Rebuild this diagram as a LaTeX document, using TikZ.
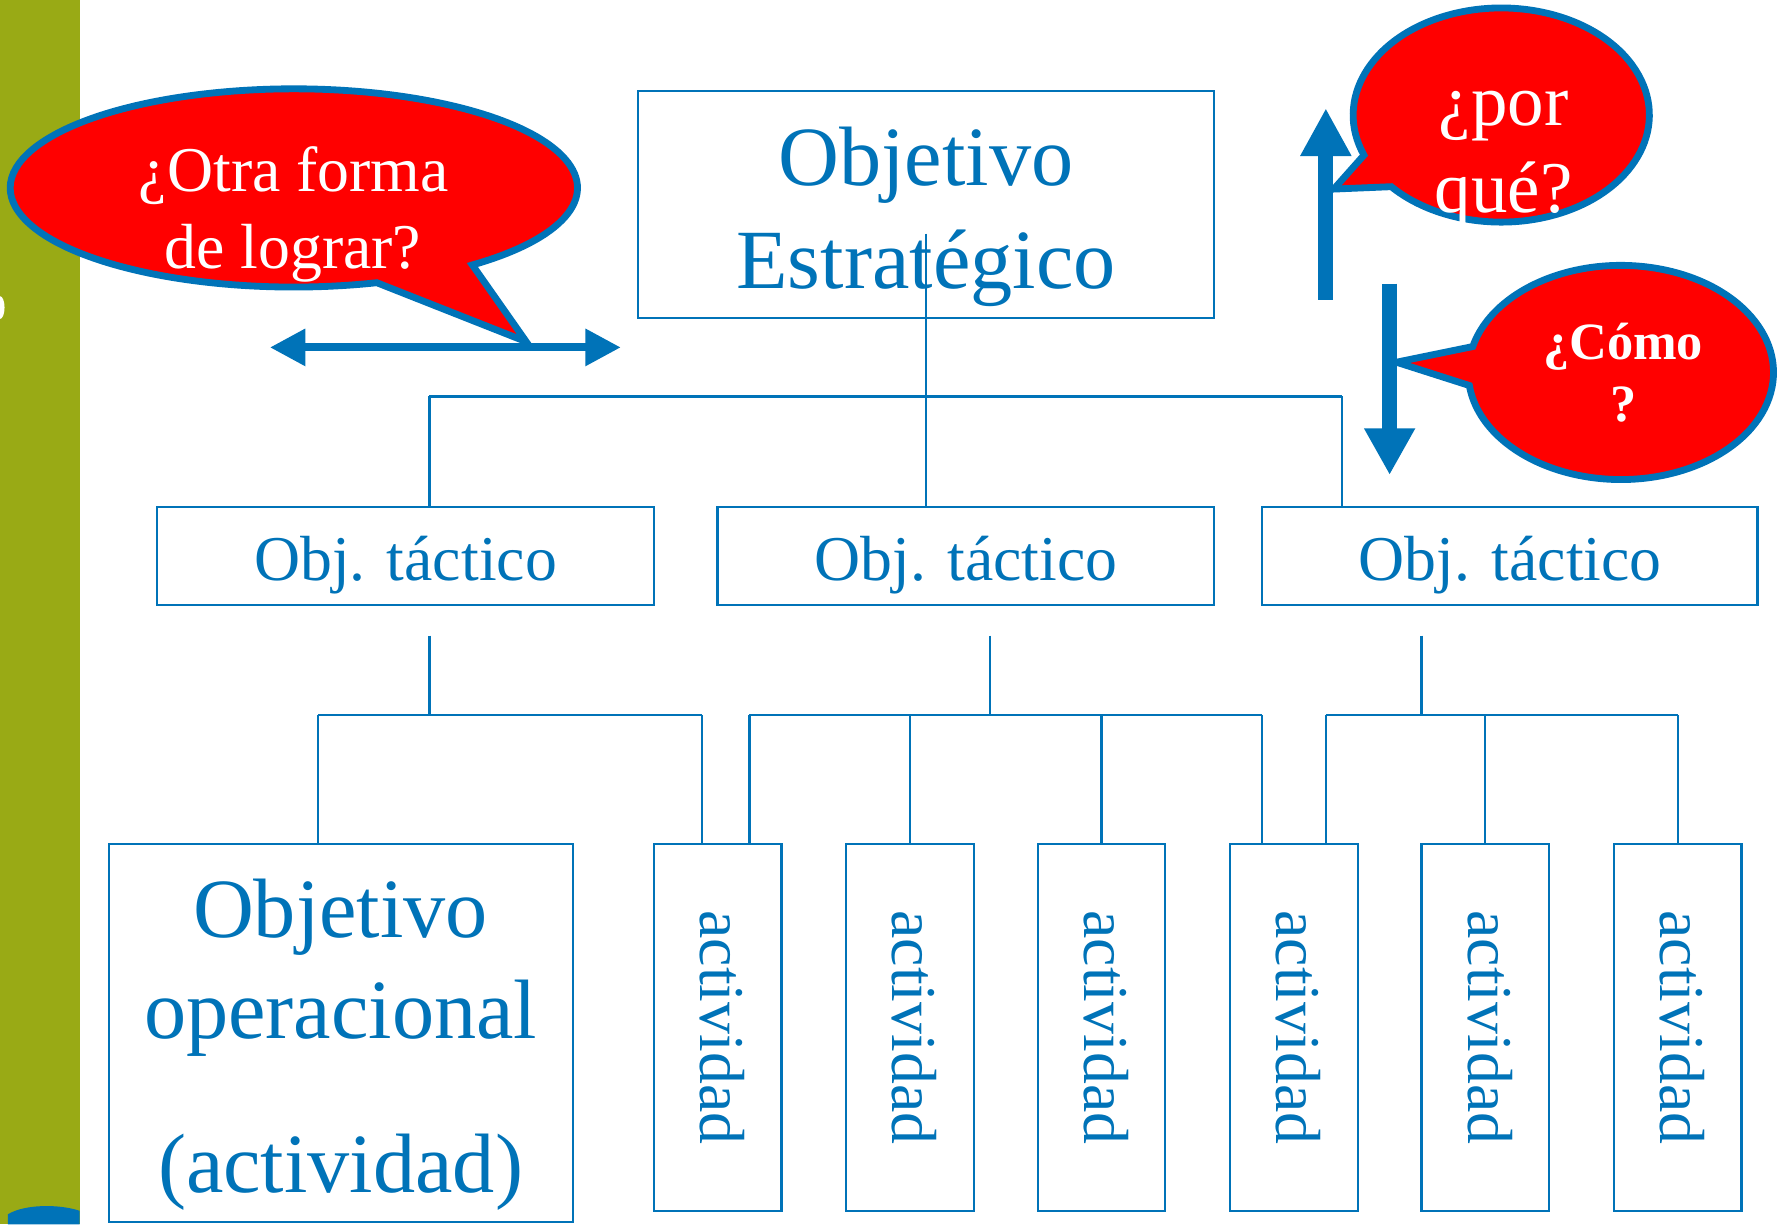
\documentclass[tikz,border=0pt]{standalone}
\usepackage{fontspec}
\setmainfont{Liberation Serif}
\usetikzlibrary{arrows.meta,calc}
\definecolor{myblue}{RGB}{0,115,184}
\definecolor{olive}{RGB}{153,170,21}
\definecolor{myred}{RGB}{255,0,0}
\newcommand\myfs[2]{\fontsize{#1}{#2}\selectfont}
\begin{document}
\begin{tikzpicture}[x=1pt,y=-1pt,
  boxs/.style={draw=myblue, line width=2pt, inner sep=0pt, minimum width=#1},
  conn/.style={draw=myblue, line width=2pt},
  bigtxt/.style={text=myblue, font=\myfs{74}{89}, inner sep=0pt, anchor=base},
  midtxt/.style={text=myblue, font=\myfs{56}{67}, inner sep=0pt, anchor=base},
  acttxt/.style={text=myblue, font=\myfs{56}{67}, inner sep=0pt, rotate=-90},
  callout/.style={fill=myred, draw=myblue, line width=6pt, line join=miter},
  calltxt/.style={text=white, inner sep=0pt, anchor=base},
  fat/.style={draw=myblue, line cap=butt}
]
\useasboundingbox (0,0) rectangle (1568,1075);
\fill[white] (0,0) rectangle (1568,1075);
% green strip
\fill[olive] (0,0) rectangle (70,1075);
\fill[white] (0,270) ellipse [x radius=4, y radius=10];
\fill[myblue] (7,1075) -- (7,1066) .. controls (22,1057) and (52,1057) .. (70,1063) -- (70,1075) -- cycle;

% boxes
\node[boxs=506pt, minimum height=199pt] (es) at (813,179.5) {};
\node[bigtxt] (es1) at (813,163) {Objetivo};
\node[bigtxt] (es2) at (813,253) {Estratégico};

\node[boxs=436pt, minimum height=86pt] (t1) at (356,488) {};
\node[boxs=436pt, minimum height=86pt] (t2) at (848,488) {};
\node[boxs=435pt, minimum height=86pt] (t3) at (1325.5,488) {};
\node[midtxt] (tt1) at (356,510) {Obj. táctico};
\node[midtxt] (tt2) at (848,510) {Obj. táctico};
\node[midtxt] (tt3) at (1326,510) {Obj. táctico};

\node[boxs=407pt, minimum height=332pt] (op) at (299.5,907) {};
\node[bigtxt] (op1) at (299,823) {Objetivo};
\node[bigtxt] (op2) at (299,912) {operacional};
\node[bigtxt] (op3) at (299,1047) {(actividad)};

\foreach \i/\x in {1/630,2/799,3/967,4/1136,5/1304,6/1473}{
  \node[boxs=112pt, minimum height=322pt] (a\i) at (\x,902) {};
  \node[acttxt] (at\i) at (\x+4,902) {actividad};
}

% connectors upper level
\coordinate (estop) at (813,205);
\coordinate (h1) at (377,348);
\coordinate (h3) at (1178,348);
\draw[conn] (estop) -- (estop |- t2.north);
\draw[conn] (h1) -- (h3);
\draw[conn] (h1) -- (h1 |- t1.north);
\draw[conn] (h3) -- (h3 |- t3.north);

% connectors lower level
\coordinate (l1) at (377,558);
\coordinate (l2) at (869,558);
\coordinate (l3) at (1248,558);
\coordinate (b1a) at (279,628); \coordinate (b1b) at (616,628);
\coordinate (b2a) at (658,628); \coordinate (b2b) at (1108,628);
\coordinate (b3a) at (1164,628); \coordinate (b3b) at (1473,628);
\draw[conn] (l1) -- (l1 |- b1a);
\draw[conn] (l2) -- (l2 |- b2a);
\draw[conn] (l3) -- (l3 |- b3a);
\draw[conn] (b1a) -- (b1b);
\draw[conn] (b2a) -- (b2b);
\draw[conn] (b3a) -- (b3b);
\draw[conn] (b1a) -- (b1a |- op.north);
\draw[conn] (b1b) -- (b1b |- a1.north);
\draw[conn] (b2a) -- (b2a |- a1.north);
\draw[conn] (799,628) -- (a2.north);
\draw[conn] (967,628) -- (a3.north);
\draw[conn] (b2b) -- (b2b |- a4.north);
\draw[conn] (b3a) -- (b3a |- a4.north);
\draw[conn] (1304,628) -- (a5.north);
\draw[conn] (b3b) -- (a6.north);

% callouts
\draw[callout] ($(258,165)+(51:249 and 87)$) -- (462,300) -- ($(258,165)+(73:249 and 87)$)
   arc[start angle=73, end angle=411, x radius=249, y radius=87] -- cycle;
\draw[callout] ($(1318,101)+(138:130 and 94)$) -- (1171,166) -- ($(1318,101)+(158:130 and 94)$)
   arc[start angle=158, end angle=498, x radius=130, y radius=94] -- cycle;
\draw[callout] ($(1423,327)+(173:134 and 94)$) -- (1226,318) -- ($(1423,327)+(194:134 and 94)$)
   arc[start angle=194, end angle=533, x radius=134, y radius=94] -- cycle;

% arrows
\coordinate (da) at (237,305); \coordinate (db) at (545,305);
\coordinate (ua) at (1164,263); \coordinate (ub) at (1164,95);
\coordinate (wa) at (1220,249); \coordinate (wb) at (1220,417);
\draw[fat, line width=7pt, {Triangle[length=31pt,width=31pt]}-{Triangle[length=31pt,width=31pt]}] (da) -- (db);
\draw[fat, line width=13pt, -{Triangle[length=42pt,width=42pt]}] (ua) -- (ub);
\draw[fat, line width=13pt, -{Triangle[length=41pt,width=42pt]}] (wa) -- (wb);

% callout texts
\node[calltxt, font=\myfs{56}{67}] (c1a) at (258,168) {¿Otra forma};
\node[calltxt, font=\myfs{56}{67}] (c1b) at (257,236) {de lograr?};
\node[calltxt, font=\myfs{64}{77}] (c2a) at (1320,110) {¿por};
\node[calltxt, font=\myfs{64}{77}] (c2b) at (1320,187) {qué?};
\node[calltxt, font=\myfs{46}{54}\bfseries] (c3a) at (1425,316) {¿Cómo};
\node[calltxt, font=\myfs{46}{54}\bfseries] (c3b) at (1425,370) {?};
\end{tikzpicture}
\end{document}
